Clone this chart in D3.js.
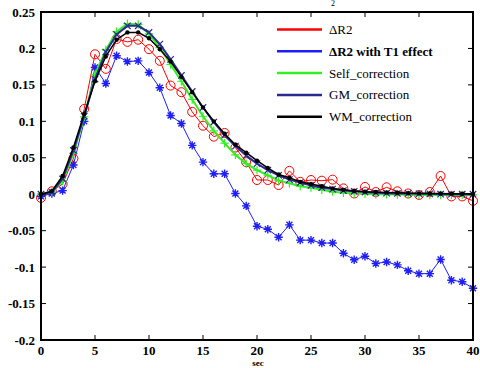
<!DOCTYPE html>
<html>
<head>
<meta charset="utf-8">
<script src="https://cdn.jsdelivr.net/npm/d3@7"></script>
<style>
  body { margin: 0; background: #fff; }
  svg { display: block; }
</style>
</head>
<body>
<div id="chart_container"></div>
<script>
// time axis (sec)
var seconds = d3.range(0, 41);

var dR2 = [-0.005, 0.004, 0.014, 0.049, 0.117, 0.192, 0.172, 0.213, 0.209, 0.212,
  0.199, 0.183, 0.149, 0.140, 0.113, 0.094, 0.079, 0.084, 0.064, 0.044,
  0.0195, 0.0195, 0.0126, 0.032, 0.017, 0.0195, 0.0186, 0.020, 0.008, 0.001,
  0.010, 0.003, 0.0095, 0.004, 0.001, -0.001, 0.003, 0.025, -0.003, -0.003, -0.009];

var dR2_T1 = [-0.003, 0.001, 0.005, 0.040, 0.100, 0.174, 0.152, 0.190, 0.182, 0.183,
  0.167, 0.146, 0.108, 0.097, 0.067, 0.044, 0.028, 0.028, 0.001, -0.016,
  -0.044, -0.048, -0.059, -0.042, -0.063, -0.063, -0.067, -0.067, -0.081, -0.090,
  -0.085, -0.095, -0.093, -0.097, -0.105, -0.109, -0.109, -0.0895, -0.118, -0.120, -0.129];

var selfCorr = [0.0, 0.003, 0.018, 0.056, 0.106, 0.164, 0.198, 0.223, 0.234, 0.233,
  0.220, 0.201, 0.178, 0.155, 0.130, 0.107, 0.087, 0.070, 0.054, 0.042,
  0.033, 0.026, 0.019, 0.015, 0.011, 0.009, 0.006, 0.0035, 0.002, 0.001,
  0.0005, 0.0, 0.0, -0.0005, -0.0005, -0.001, -0.001, -0.001, -0.001, -0.001, -0.001];

var gmCorr = [0.0, 0.003, 0.021, 0.060, 0.107, 0.158, 0.195, 0.219, 0.231, 0.231,
  0.222, 0.206, 0.185, 0.163, 0.141, 0.119, 0.099, 0.081, 0.066, 0.053,
  0.042, 0.033, 0.026, 0.020, 0.016, 0.012, 0.009, 0.007, 0.005, 0.004,
  0.003, 0.002, 0.0015, 0.001, 0.001, 0.0005, 0.0005, 0.0, 0.0, 0.0, 0.0];

var wmCorr = [0.0, 0.004, 0.025, 0.064, 0.110, 0.155, 0.189, 0.212, 0.222, 0.222,
  0.214, 0.199, 0.182, 0.161, 0.140, 0.119, 0.100, 0.083, 0.068, 0.057,
  0.046, 0.036, 0.027, 0.0227, 0.017, 0.014, 0.011, 0.008, 0.006, 0.0044,
  0.0035, 0.003, 0.0025, 0.002, 0.0015, 0.0012, 0.001, 0.001, 0.0008, 0.0005, 0.0005];

var seriesNames = ["\u0394R2", "\u0394R2 with T1 effect", "Self_correction", "GM_correction", "WM_correction"];
var xTicks = [0, 5, 10, 15, 20, 25, 30, 35, 40];
var yTicks = [-0.2, -0.15, -0.1, -0.05, 0, 0.05, 0.1, 0.15, 0.2, 0.25];
var yTickLabels = ["-0.2", "-0.15", "-0.1", "-0.05", "0", "0.05", "0.1", "0.15", "0.2", "0.25"];

var width = 480, height = 368;
var margin = {left: 41, right: 7, top: 12, bottom: 28};

var svg = d3.select("#chart_container").append("svg")
  .attr("width", width)
  .attr("height", height);

var x = d3.scaleLinear().domain([0, 40]).range([margin.left, width - margin.right]);
var y = d3.scaleLinear().domain([-0.2, 0.25]).range([height - margin.bottom, margin.top]);

// marker shapes
function markerPath(type, s) {
  if (type == "asterisk") {
    var d = s * 0.707;
    return "M" + (-s) + ",0L" + s + ",0M0," + (-s) + "L0," + s +
      "M" + (-d) + "," + (-d) + "L" + d + "," + d + "M" + (-d) + "," + d + "L" + d + "," + (-d);
  }
  if (type == "plus") {
    return "M" + (-s) + ",0L" + s + ",0M0," + (-s) + "L0," + s;
  }
  if (type == "x") {
    return "M" + (-s) + "," + (-s) + "L" + s + "," + s + "M" + (-s) + "," + s + "L" + s + "," + (-s);
  }
  return "";
}

var series = [
  {name: seriesNames[0], values: dR2, color: "#ff0000", width: 1, marker: "circle", legendBold: false},
  {name: seriesNames[1], values: dR2_T1, color: "#1f1ff5", width: 1, marker: "asterisk", legendBold: true},
  {name: seriesNames[2], values: selfCorr, color: "#33ee22", width: 2, marker: "plus", legendBold: false},
  {name: seriesNames[3], values: gmCorr, color: "#2a2a90", width: 2, marker: "x", legendBold: false},
  {name: seriesNames[4], values: wmCorr, color: "#000000", width: 1.5, marker: "dot", legendBold: false}
];

var line = d3.line()
  .x(function(d, i) { return x(seconds[i]); })
  .y(function(d) { return y(d); });

// draw order: red, blue, green, navy, black on top
series.forEach(function(s) {
  var g = svg.append("g");
  g.append("path")
    .attr("d", line(s.values))
    .attr("fill", "none")
    .attr("stroke", s.color)
    .attr("stroke-width", s.width)
    .attr("stroke-linejoin", "round");

  var pts = g.selectAll("whatever")
    .data(s.values)
    .enter();
  if (s.marker == "circle") {
    pts.append("circle")
      .attr("cx", function(d, i) { return x(seconds[i]); })
      .attr("cy", function(d) { return y(d); })
      .attr("r", 4.5)
      .attr("fill", "none")
      .attr("stroke", s.color)
      .attr("stroke-width", 1);
  } else if (s.marker == "dot") {
    pts.append("circle")
      .attr("cx", function(d, i) { return x(seconds[i]); })
      .attr("cy", function(d) { return y(d); })
      .attr("r", 2.2)
      .attr("fill", s.color);
  } else {
    var size = s.marker == "x" ? 3.2 : 4.2;
    pts.append("path")
      .attr("transform", function(d, i) { return "translate(" + x(seconds[i]) + "," + y(d) + ")"; })
      .attr("d", markerPath(s.marker, size))
      .attr("fill", "none")
      .attr("stroke", s.color)
      .attr("stroke-width", s.marker == "asterisk" ? 1.4 : 1.2);
  }
});

// axes box with inward ticks on all sides
var tickLen = 5;
var axisG = svg.append("g");
xTicks.forEach(function(t) {
  axisG.append("line").attr("x1", x(t)).attr("x2", x(t))
    .attr("y1", y(-0.2)).attr("y2", y(-0.2) - tickLen).attr("stroke", "#000");
  axisG.append("line").attr("x1", x(t)).attr("x2", x(t))
    .attr("y1", y(0.25)).attr("y2", y(0.25) + tickLen).attr("stroke", "#000");
  axisG.append("text")
    .attr("x", x(t)).attr("y", y(-0.2) + 15)
    .attr("text-anchor", "middle")
    .style("font-family", "'Liberation Serif', 'DejaVu Serif', serif")
    .style("font-weight", "bold")
    .style("font-size", "13px")
    .text(t);
});
yTicks.forEach(function(t, i) {
  axisG.append("line").attr("x1", x(0)).attr("x2", x(0) + tickLen)
    .attr("y1", y(t)).attr("y2", y(t)).attr("stroke", "#000");
  axisG.append("line").attr("x1", x(40)).attr("x2", x(40) - tickLen)
    .attr("y1", y(t)).attr("y2", y(t)).attr("stroke", "#000");
  axisG.append("text")
    .attr("x", x(0) - 6).attr("y", y(t) + 4.5)
    .attr("text-anchor", "end")
    .style("font-family", "'Liberation Serif', 'DejaVu Serif', serif")
    .style("font-weight", "bold")
    .style("font-size", "13px")
    .text(yTickLabels[i]);
});
axisG.append("rect")
  .attr("x", x(0)).attr("y", y(0.25))
  .attr("width", x(40) - x(0)).attr("height", y(-0.2) - y(0.25))
  .attr("fill", "none")
  .attr("stroke", "#000")
  .attr("stroke-width", 2);

// x label at the very bottom edge
svg.append("text")
  .attr("x", 258).attr("y", 366)
  .attr("text-anchor", "middle")
  .style("font-family", "'Liberation Serif', serif")
  .style("font-weight", "bold")
  .style("font-size", "9px")
  .text("sec");

// leftover subscript of a title above the plot
svg.append("text")
  .attr("x", 333).attr("y", 6)
  .attr("text-anchor", "middle")
  .style("font-family", "'Liberation Serif', serif")
  .style("font-size", "8px")
  .text("2");

// legend
var legend = svg.append("g");
series.forEach(function(s, i) {
  var ly = 29.5 + i * 21.8;
  legend.append("line")
    .attr("x1", 277).attr("x2", 322)
    .attr("y1", ly).attr("y2", ly)
    .attr("stroke", s.color)
    .attr("stroke-width", 2.5);
  legend.append("text")
    .attr("x", 329).attr("y", ly + 4.5)
    .style("font-family", "'Liberation Serif', 'DejaVu Serif', serif")
    .style("font-weight", s.legendBold ? "bold" : "normal")
    .style("font-size", "13px")
    .text(s.name);
});
</script>
</body>
</html>
